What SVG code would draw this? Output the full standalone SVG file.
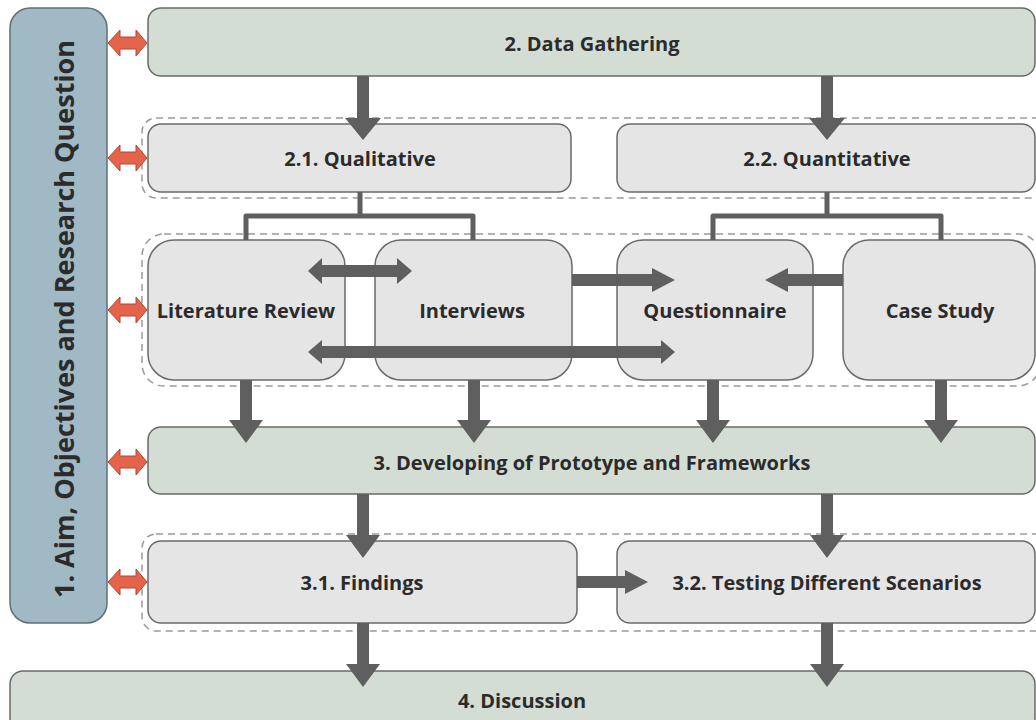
<svg xmlns="http://www.w3.org/2000/svg" width="1036" height="720" viewBox="0 0 1036 720">
  <style>
    .lbl { font-family: "Open Sans", "Liberation Sans", sans-serif; font-weight: 700; fill: #2b2b2b; text-anchor: middle; dominant-baseline: central; font-size: 20px; }
    .main { fill: #d3ddd4; stroke: #6a6a6a; stroke-width: 1.5; }
    .sub { fill: #e5e5e5; stroke: #6a6a6a; stroke-width: 1.5; }
    .aim { fill: #a1b9c4; stroke: #5f6f76; stroke-width: 1.5; }
    .grp { fill: none; stroke: #9a9a9a; stroke-width: 1.5; stroke-dasharray: 7 5; }
    .arr { fill: #5f5f5f; }
    .link { fill: none; stroke: #5f5f5f; stroke-width: 5; stroke-linejoin: round; }
    .dbl { fill: #e3634b; stroke: #b4483a; stroke-width: 1; }
  </style>

  <!-- dashed groupings -->
  <g id="groups">
    <rect class="grp" x="142" y="118" width="910" height="80" rx="14"/>
    <rect class="grp" x="142" y="234" width="898" height="152" rx="22"/>
    <rect class="grp" x="142" y="534" width="910" height="97" rx="14"/>
  </g>

  <!-- left column -->
  <g id="aim">
    <rect class="aim" x="10" y="8" width="97" height="615" rx="20"/>
    <text class="lbl" x="63" y="319" style="font-size:27px" transform="rotate(-90 63 319)">1. Aim, Objectives and Research Question</text>
  </g>

  <g id="data-gathering">
    <rect class="main" x="148" y="8" width="887" height="68" rx="13"/>
    <text class="lbl" x="592" y="43">2. Data Gathering</text>
  </g>

  <g id="qualitative">
    <rect class="sub" x="148" y="124" width="423" height="68" rx="13"/>
    <text class="lbl" x="360" y="158">2.1. Qualitative</text>
  </g>

  <g id="quantitative">
    <rect class="sub" x="617" y="124" width="418" height="68" rx="13"/>
    <text class="lbl" x="827" y="158">2.2. Quantitative</text>
  </g>

  <g id="literature-review">
    <rect class="sub" x="148" y="240" width="197" height="140" rx="26"/>
    <text class="lbl" x="246" y="310">Literature Review</text>
  </g>

  <g id="interviews">
    <rect class="sub" x="375" y="240" width="197" height="140" rx="26"/>
    <text class="lbl" x="472" y="310">Interviews</text>
  </g>

  <g id="questionnaire">
    <rect class="sub" x="617" y="240" width="196" height="140" rx="26"/>
    <text class="lbl" x="715" y="310">Questionnaire</text>
  </g>

  <g id="case-study">
    <rect class="sub" x="843" y="240" width="192" height="140" rx="26"/>
    <text class="lbl" x="940" y="310">Case Study</text>
  </g>

  <g id="prototype">
    <rect class="main" x="148" y="427" width="887" height="67" rx="13"/>
    <text class="lbl" x="592" y="462">3. Developing of Prototype and Frameworks</text>
  </g>

  <g id="findings">
    <rect class="sub" x="148" y="541" width="429" height="82" rx="13"/>
    <text class="lbl" x="362" y="582">3.1. Findings</text>
  </g>

  <g id="testing">
    <rect class="sub" x="617" y="541" width="418" height="82" rx="13"/>
    <text class="lbl" x="827" y="582">3.2. Testing Different Scenarios</text>
  </g>

  <g id="discussion">
    <rect class="main" x="10" y="671" width="1025" height="60" rx="13"/>
    <text class="lbl" x="522" y="700">4. Discussion</text>
  </g>

  <g id="connectors">
    <!-- branching lines -->
    <path class="link" d="M360 192 V216 M246 240 V216 H473 V240"/>
    <path class="link" d="M827 192 V216 M713 240 V216 H941 V240"/>

    <!-- downward arrows -->
    <path class="arr" d="M357 76 H369 V118 H381 L363 140 L345 118 H357 Z"/>
    <path class="arr" d="M821 76 H833 V118 H845 L827 140 L809 118 H821 Z"/>

    <path class="arr" d="M240 380 H252 V420 H263 L246 443 L229 420 H240 Z"/>
    <path class="arr" d="M468 380 H480 V420 H491 L474 443 L457 420 H468 Z"/>
    <path class="arr" d="M707 380 H719 V420 H730 L713 443 L696 420 H707 Z"/>
    <path class="arr" d="M935 380 H947 V420 H958 L941 443 L924 420 H935 Z"/>

    <path class="arr" d="M357 494 H369 V535 H380 L363 558 L346 535 H357 Z"/>
    <path class="arr" d="M821 494 H833 V535 H844 L827 558 L810 535 H821 Z"/>

    <path class="arr" d="M357 623 H369 V664 H380 L363 687 L346 664 H357 Z"/>
    <path class="arr" d="M821 623 H833 V664 H844 L827 687 L810 664 H821 Z"/>

    <!-- horizontal arrows between methods -->
    <path class="arr" d="M308 271 L322 258 V265 H397 V258 L412 271 L397 284 V277 H322 V284 Z"/>
    <path class="arr" d="M308 352 L322 340 V346 H661 V340 L675 352 L661 364 V358 H322 V364 Z"/>
    <path class="arr" d="M572 274 H652 V268 L675 280 L652 292 V286 H572 Z"/>
    <path class="arr" d="M843 274 H788 V268 L765 280 L788 292 V286 H843 Z"/>
    <path class="arr" d="M577 576 H625 V570 L648 582 L625 594 V588 H577 Z"/>

    <!-- links to the aim column -->
    <g id="aim-links">
      <path class="dbl" d="M108 43 L120 30 V37 H136 V30 L147 43 L136 56 V49 H120 V56 Z"/>
      <path class="dbl" d="M108 158 L120 145 V152 H136 V145 L147 158 L136 171 V164 H120 V171 Z"/>
      <path class="dbl" d="M108 310 L120 297 V304 H136 V297 L147 310 L136 323 V316 H120 V323 Z"/>
      <path class="dbl" d="M108 462 L120 449 V456 H136 V449 L147 462 L136 475 V468 H120 V475 Z"/>
      <path class="dbl" d="M108 582 L120 569 V576 H136 V569 L147 582 L136 595 V588 H120 V595 Z"/>
    </g>
  </g>
</svg>
